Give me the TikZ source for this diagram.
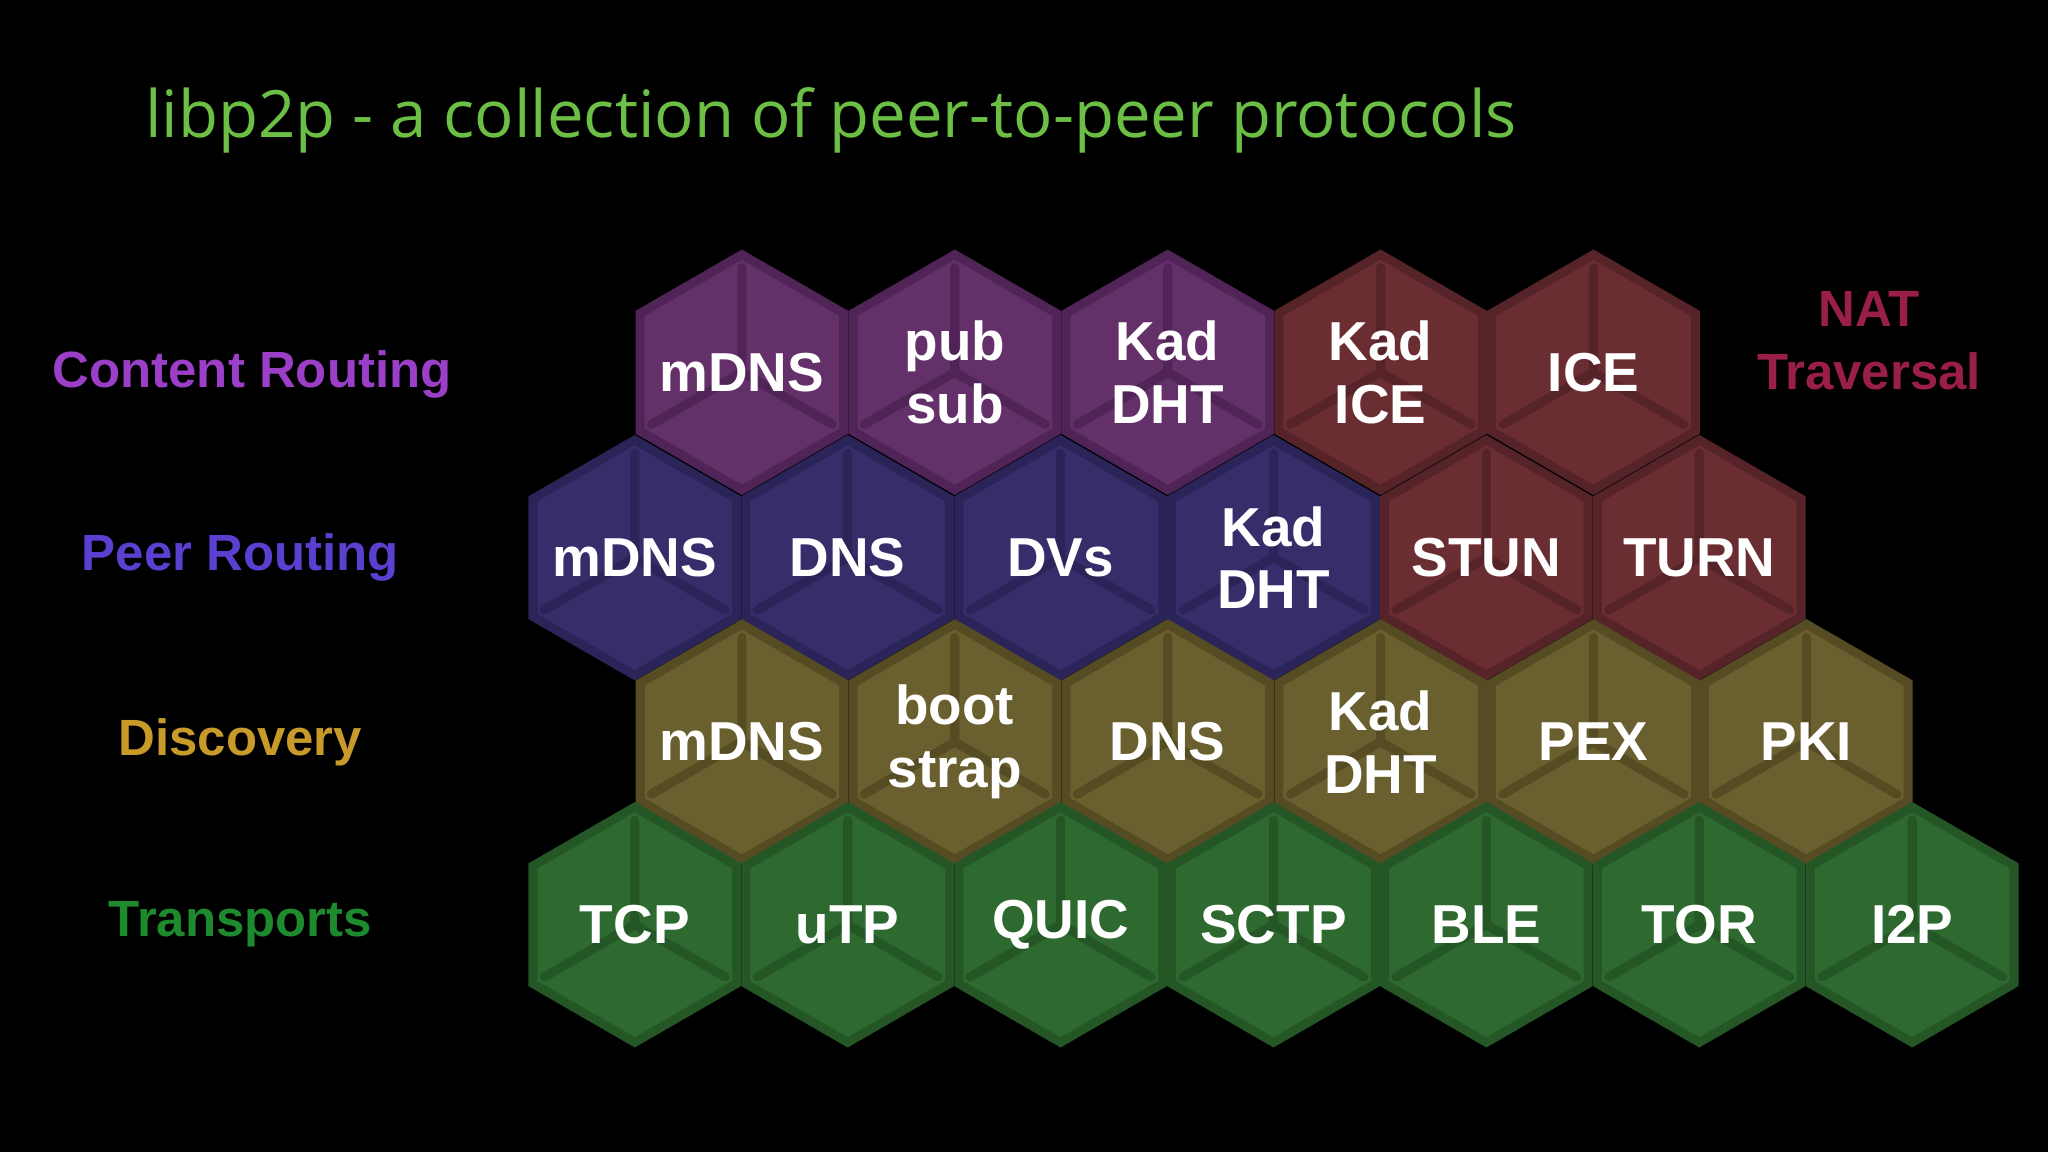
\documentclass[tikz,border=0pt]{standalone}
\usepackage{fontspec}
\setmainfont{Liberation Sans}
\newfontfamily\titlefont{Open Sans}
\definecolor{cr}{RGB}{100,48,106}
\definecolor{crd}{RGB}{80,36,86}
\definecolor{pr}{RGB}{54,46,106}
\definecolor{prd}{RGB}{42,36,88}
\definecolor{di}{RGB}{106,95,46}
\definecolor{did}{RGB}{86,76,36}
\definecolor{tr}{RGB}{46,106,48}
\definecolor{trd}{RGB}{36,86,38}
\definecolor{nt}{RGB}{106,46,50}
\definecolor{ntd}{RGB}{86,36,40}
\definecolor{tgreen}{RGB}{108,191,69}
\definecolor{lcr}{RGB}{155,63,200}
\definecolor{lpr}{RGB}{91,63,208}
\definecolor{ldi}{RGB}{200,154,42}
\definecolor{ltr}{RGB}{30,138,46}
\definecolor{lnt}{RGB}{154,30,74}
\tikzset{
  hexlabel/.style={text=white,font=\bfseries\fontsize{21}{24}\selectfont,align=center},
  rowlabel/.style={font=\bfseries\fontsize{19.5}{24}\selectfont,align=center}
}
\newcommand{\hexcell}[5]{%
  \fill[#4] (#1,#2) +(90:94) -- +(150:94) -- +(210:94) -- +(270:94) -- +(330:94) -- +(30:94) -- cycle;
  \fill[#3] (#1,#2) +(90:86) -- +(150:86) -- +(210:86) -- +(270:86) -- +(330:86) -- +(30:86) -- cycle;
  \draw[#4,line width=3.5pt,line cap=round] (#1,#2) -- +(150:80) (#1,#2) -- +(30:80) (#1,#2) -- +(270:80);
  \node[hexlabel] (#5) at (#1,#2) {};
}
\begin{document}
\begin{tikzpicture}[x=0.5pt,y=-0.5pt]
\fill[black] (0,0) rectangle (1568,882);
\useasboundingbox (0,0) rectangle (1568,882);
\node[anchor=west,text=tgreen,font=\titlefont\fontsize{25}{30}\selectfont] (title) at (104,92) {libp2p - a collection of peer-to-peer protocols};
% Content routing
\foreach \i/\c/\d/\t in {0/cr/crd/mDNS,1/cr/crd/{pub\\sub},2/cr/crd/{Kad\\DHT},3/nt/ntd/{Kad\\ICE},4/nt/ntd/ICE}{
  \hexcell{568+163*\i}{285}{\c}{\d}{c\i}
  \node[hexlabel] at (568+163*\i,285) {\t};
}
\foreach \i/\c/\d/\t in {0/pr/prd/mDNS,1/pr/prd/DNS,2/pr/prd/DVs,3/pr/prd/{Kad\\DHT},4/nt/ntd/STUN,5/nt/ntd/TURN}{
  \hexcell{486+163*\i}{427}{\c}{\d}{p\i}
  \node[hexlabel] at (486+163*\i,427) {\t};
}
\foreach \i/\t in {0/mDNS,1/{boot\\strap},2/DNS,3/{Kad\\DHT},4/PEX,5/PKI}{
  \hexcell{568+163*\i}{568}{di}{did}{d\i}
  \node[hexlabel] at (568+163*\i,568) {\t};
}
\foreach \i/\t in {0/TCP,1/uTP,2/QUIC,3/SCTP,4/BLE,5/TOR,6/I2P}{
  \hexcell{486+163*\i}{708}{tr}{trd}{t\i}
  \node[hexlabel] at (486+163*\i,708) {\t};
}
\node[rowlabel,text=lcr] (lc) at (193,287) {Content Routing};
\node[rowlabel,text=lpr] (lp) at (184,427) {Peer Routing};
\node[rowlabel,text=ldi] (ld) at (184,568) {Discovery};
\node[rowlabel,text=ltr] (lt) at (184,708) {Transports};
\node[rowlabel,text=lnt] (ln) at (1431,261) {NAT\\Traversal};
\end{tikzpicture}
\end{document}
